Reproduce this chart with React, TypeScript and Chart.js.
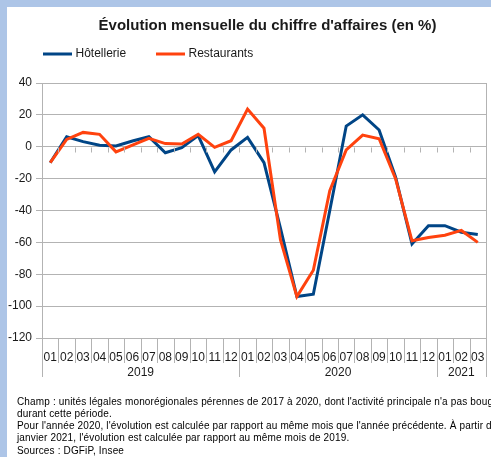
import React, { useEffect, useRef } from 'react';
import { Chart, registerables } from 'chart.js';

Chart.register(...registerables);

const TITLE = "Évolution mensuelle du chiffre d'affaires (en %)";
const MONTHS = ['01','02','03','04','05','06','07','08','09','10','11','12','01','02','03','04','05','06','07','08','09','10','11','12','01','02','03'];
const YEARS = ['2019', '2020', '2021'];
const YEAR_SPANS = [12, 12, 3];
const SERIES_NAMES = ['Hôtellerie', 'Restaurants'];
const HOTELLERIE = [-10, 6.3, 3.2, 1, 0.5, 3.6, 6.3, -3.8, -0.6, 7, -15.8, -2, 5.9, -10, -51, -94, -92.5, -40, 13, 20, 10.5, -19, -61, -49.5, -49.5, -53.6, -55];
const RESTAURANTS = [-10, 4.6, 9, 7.8, -3.2, 1, 5.3, 2, 1.7, 7.8, -0.4, 3.8, 23.6, 11.6, -58.3, -94, -77.5, -27.5, -2, 7.3, 5, -20, -59, -57, -55.5, -52.5, -60];
const Y_MIN = -120;
const Y_MAX = 40;
const Y_STEP = 20;
const NOTES = [
  "Champ : unités légales monorégionales pérennes de 2017 à 2020, dont l'activité principale n'a pas bougé",
  'durant cette période.',
  "Pour l'année 2020, l'évolution est calculée par rapport au même mois que l'année précédente. À partir de",
  "janvier 2021, l'évolution est calculée par rapport au même mois de 2019.",
  'Sources : DGFiP, Insee',
];

const COLORS = ['#004586', '#ff420e'];
const GRID = '#b3b3b3';
const FRAME = '#adc5e7';
const TEXT = '#1a1a1a';
const FONT = "'Liberation Sans', Arial, sans-serif";
const W = 491;
const H = 457;

const decor = {
  id: 'decor',
  beforeDraw(chart: any) {
    const ctx = chart.ctx;
    ctx.save();
    ctx.fillStyle = FRAME;
    ctx.fillRect(0, 0, W, H);
    ctx.fillStyle = '#ffffff';
    ctx.fillRect(7, 7, W - 7, H - 7);
    ctx.restore();
  },
  afterDraw(chart: any) {
    const ctx = chart.ctx;
    const xs = chart.scales.x;
    const ys = chart.scales.y;
    const ca = chart.chartArea;
    const n = MONTHS.length;
    const step = xs.getPixelForValue(1) - xs.getPixelForValue(0);
    const bnd = (i: number) => Math.round(xs.getPixelForValue(i) - step / 2) + 0.5;
    ctx.save();
    ctx.strokeStyle = GRID;
    ctx.lineWidth = 1;
    const y0 = Math.round(ys.getPixelForValue(0)) + 0.5;
    ctx.beginPath();
    for (let i = 1; i < n; i++) {
      ctx.moveTo(bnd(i), y0);
      ctx.lineTo(bnd(i), y0 + 5);
    }
    const yearBounds = new Set<number>([0]);
    let acc = 0;
    YEAR_SPANS.forEach((s) => { acc += s; yearBounds.add(acc); });
    for (let i = 0; i <= n; i++) {
      const x = bnd(i);
      const long = yearBounds.has(i);
      ctx.moveTo(x, ca.bottom);
      ctx.lineTo(x, ca.bottom + (long ? 39 : 25));
    }
    ctx.moveTo(bnd(n), ca.top);
    ctx.lineTo(bnd(n), ca.bottom);
    ctx.stroke();

    // year labels
    ctx.fillStyle = TEXT;
    ctx.font = `12px ${FONT}`;
    ctx.textAlign = 'center';
    ctx.textBaseline = 'middle';
    let start = 0;
    YEARS.forEach((y, k) => {
      const end = start + YEAR_SPANS[k];
      const cx = (xs.getPixelForValue(start) + xs.getPixelForValue(end - 1)) / 2;
      ctx.fillText(y, cx, ca.bottom + 35);
      start = end;
    });

    // title
    ctx.font = `bold 15px ${FONT}`;
    ctx.textAlign = 'center';
    ctx.textBaseline = 'alphabetic';
    ctx.fillStyle = TEXT;
    ctx.fillText(TITLE, 267.5, 29.5);

    // legend
    const legendX = [43, 156];
    ctx.font = `12px ${FONT}`;
    ctx.textAlign = 'left';
    ctx.textBaseline = 'middle';
    SERIES_NAMES.forEach((name, i) => {
      ctx.fillStyle = COLORS[i];
      ctx.fillRect(legendX[i], 52.5, 29, 3);
      ctx.fillStyle = TEXT;
      ctx.fillText(name, legendX[i] + 32.5, 54);
    });
    ctx.restore();
  },
};

export default function App() {
  const ref = useRef<HTMLCanvasElement | null>(null);
  useEffect(() => {
    if (!ref.current) return;
    Chart.defaults.font.family = FONT;
    const chart = new Chart(ref.current, {
      type: 'line',
      data: {
        labels: MONTHS,
        datasets: [
          {
            label: SERIES_NAMES[0],
            data: HOTELLERIE,
            borderColor: COLORS[0],
            backgroundColor: COLORS[0],
            borderWidth: 3,
            pointRadius: 0,
            tension: 0,
            order: 1,
          },
          {
            label: SERIES_NAMES[1],
            data: RESTAURANTS,
            borderColor: COLORS[1],
            backgroundColor: COLORS[1],
            borderWidth: 3,
            pointRadius: 0,
            tension: 0,
            order: 0,
          },
        ],
      },
      options: {
        responsive: false,
        animation: false,
        events: [],
        layout: { padding: { left: 0, right: 5, top: 83, bottom: 79 } },
        plugins: {
          legend: { display: false },
          title: { display: false },
          tooltip: { enabled: false },
        },
        scales: {
          x: {
            offset: true,
            grid: { display: false, drawTicks: true, tickLength: 12 },
            border: { display: true, color: GRID },
            ticks: {
              autoSkip: false,
              maxRotation: 0,
              minRotation: 0,
              padding: 0,
              color: TEXT,
              font: { size: 12, family: FONT },
            },
            afterFit(scale: any) { scale.height = 40; },
          },
          y: {
            min: Y_MIN,
            max: Y_MAX,
            ticks: {
              stepSize: Y_STEP,
              color: TEXT,
              padding: 4,
              font: { size: 12, family: FONT },
            },
            grid: { color: GRID, lineWidth: 1, tickLength: 6, drawTicks: true },
            border: { display: true, color: GRID },
            afterFit(scale: any) { scale.width = 42; },
          },
        },
      },
      plugins: [decor],
    } as any);
    return () => chart.destroy();
  }, []);

  return (
    <div style={{ position: 'absolute', left: 0, top: 0, width: W, height: H, overflow: 'hidden', background: '#fff' }}>
      <canvas ref={ref} width={W} height={H} style={{ display: 'block', width: W, height: H }} />
      <div
        style={{
          position: 'absolute',
          left: 17,
          top: 395.5,
          fontFamily: FONT,
          fontSize: 10,
          lineHeight: '12.25px',
          letterSpacing: '0.15px',
          color: '#000',
          whiteSpace: 'nowrap',
        }}
      >
        {NOTES.map((t, i) => (
          <div key={i}>{t}</div>
        ))}
      </div>
    </div>
  );
}
